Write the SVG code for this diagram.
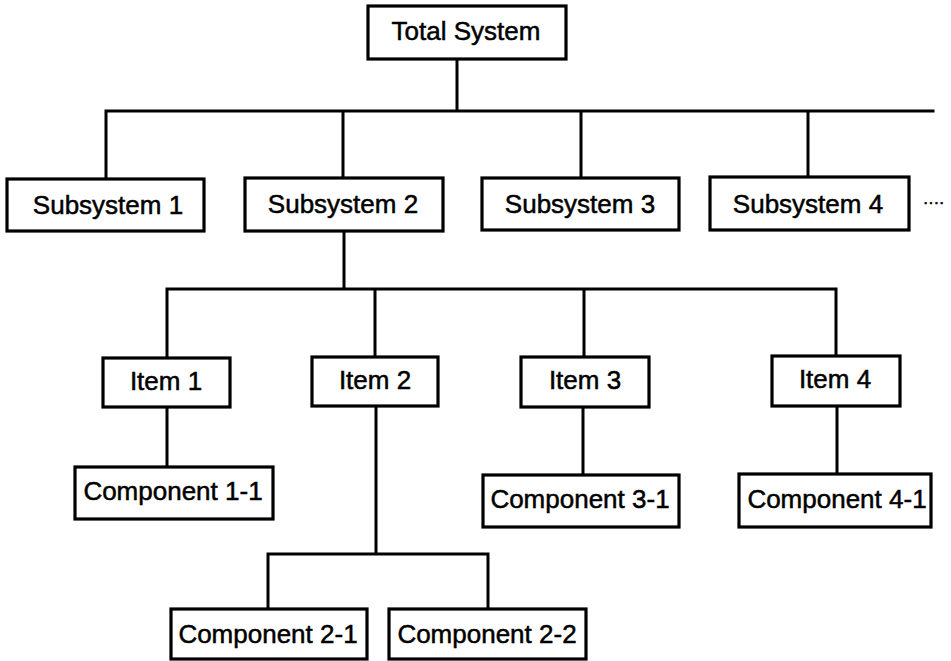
<svg xmlns="http://www.w3.org/2000/svg" width="951" height="661" viewBox="0 0 951 661">
<style>
.box{fill:#fff;stroke:#000;stroke-width:3.2}
.lbl{font-family:"Liberation Sans",Arial,sans-serif;font-size:26px;fill:#000;stroke:#000;stroke-width:0.5;text-anchor:middle}
.con{stroke:#000;stroke-width:3;fill:none;stroke-linecap:square}
</style>
<rect width="951" height="661" fill="#fff"/>
<g id="connectors">
<path class="con" d="M457,59V111M106,111H933M106,111V179M343,111V178M581,111V178M808,111V177"/>
<path class="con" d="M344,231V289M167,289H836M167,289V358M375,289V357M584,289V357M836,289V356"/>
<path class="con" d="M167,407V467M376,406V554M268,554H488M268,554V609M488,554V609M583,407V475M837,406V474"/>
</g>
<g id="total"><rect class="box" x="368" y="6" width="198" height="53"/><text class="lbl" x="466" y="40">Total System</text></g>
<g id="sub1"><rect class="box" x="7" y="179" width="197" height="52"/><text class="lbl" x="108" y="214">Subsystem 1</text></g>
<g id="sub2"><rect class="box" x="245" y="178" width="198" height="53"/><text class="lbl" x="343" y="213">Subsystem 2</text></g>
<g id="sub3"><rect class="box" x="482" y="178" width="197" height="52"/><text class="lbl" x="580" y="213">Subsystem 3</text></g>
<g id="sub4"><rect class="box" x="710" y="177" width="199" height="53"/><text class="lbl" x="808" y="213">Subsystem 4</text></g>
<g id="more"><text x="923" y="208" font-family="Liberation Sans,Arial,sans-serif" font-size="16" stroke="#000" stroke-width="0.6">····</text></g>
<g id="item1"><rect class="box" x="103" y="358" width="127" height="49"/><text class="lbl" x="166" y="390">Item 1</text></g>
<g id="item2"><rect class="box" x="312" y="357" width="126" height="49"/><text class="lbl" x="375" y="389">Item 2</text></g>
<g id="item3"><rect class="box" x="521" y="357" width="128" height="50"/><text class="lbl" x="585" y="389">Item 3</text></g>
<g id="item4"><rect class="box" x="772" y="356" width="128" height="50"/><text class="lbl" x="835" y="388">Item 4</text></g>
<g id="comp11"><rect class="box" x="75" y="467" width="198" height="52"/><text class="lbl" x="173" y="500">Component 1-1</text></g>
<g id="comp31"><rect class="box" x="483" y="475" width="196" height="52"/><text class="lbl" x="580" y="508">Component 3-1</text></g>
<g id="comp41"><rect class="box" x="739" y="474" width="192" height="53"/><text class="lbl" x="837" y="508">Component 4-1</text></g>
<g id="comp21"><rect class="box" x="171" y="609" width="196" height="50"/><text class="lbl" x="268" y="643">Component 2-1</text></g>
<g id="comp22"><rect class="box" x="389" y="609" width="197" height="50"/><text class="lbl" x="487" y="643">Component 2-2</text></g>
</svg>
